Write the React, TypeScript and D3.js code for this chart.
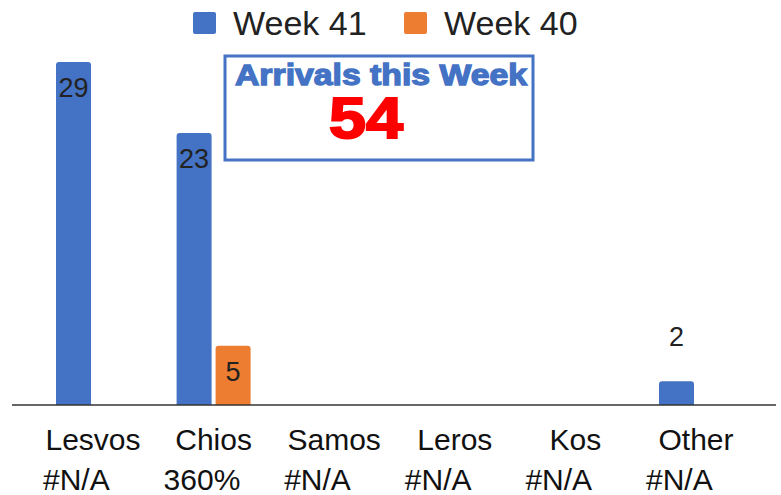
import React from "react";
import * as d3 from "d3";

const categories = ["Lesvos", "Chios", "Samos", "Leros", "Kos", "Other"];
const subLabels = ["#N/A", "360%", "#N/A", "#N/A", "#N/A", "#N/A"];
const seriesNames = ["Week 41", "Week 40"];
const week41 = [29, 23, null, null, null, 2];
const week40 = [null, 5, null, null, null, null];
const seriesColors = ["#4472C4", "#ED7D31"];
const boxTitle = "Arrivals this Week";
const boxValue = "54";

const width = 781;
const height = 495;
const font = "'Liberation Sans', Arial, sans-serif";

// bar with rounded top corners
const topRounded = (x: number, y: number, w: number, h: number, r: number) => {
  const rr = Math.min(r, h, w / 2);
  return `M${x},${y + h}V${y + rr}Q${x},${y} ${x + rr},${y}H${x + w - rr}Q${x + w},${y} ${x + w},${y + rr}V${y + h}Z`;
};

const App = () => {
  const x = d3
    .scaleBand()
    .domain(categories)
    .range([32.7, 756.3])
    .paddingInner(0.3864)
    .paddingOuter(0.1932);
  const xSub = d3
    .scaleBand()
    .domain(seriesNames)
    .range([0, x.bandwidth()])
    .paddingInner(0.1026);
  const y = d3.scaleLinear().domain([0, 29]).range([405, 62]);

  const series = [week41, week40];

  return (
    <svg
      width={width}
      height={height}
      style={{ position: "absolute", left: 0, top: 0, background: "#fff" }}
      fontFamily={font}
    >
      {/* legend */}
      {seriesNames.map((name, i) => {
        const lx = i === 0 ? 193 : 404;
        return (
          <g key={name}>
            <rect x={lx} y={12} width={23} height={22} rx={2} fill={seriesColors[i]} />
            <text x={lx + 40} y={35} fontSize={34} fill="#222">
              {name}
            </text>
          </g>
        );
      })}

      {/* bars */}
      {series.map((vals, si) =>
        vals.map((v, ci) => {
          if (v == null) return null;
          const bx = (x(categories[ci]) ?? 0) + (xSub(seriesNames[si]) ?? 0);
          const bw = xSub.bandwidth();
          const top = y(v);
          const h = y(0) - top;
          const inside = h > 45;
          return (
            <g key={`${si}-${ci}`}>
              <path d={topRounded(bx, top, bw, h, 3)} fill={seriesColors[si]} />
              <text
                x={bx + bw / 2}
                y={inside ? top + 35 : top - 35}
                textAnchor="middle"
                fontSize={27}
                fill="#222"
              >
                {v}
              </text>
            </g>
          );
        })
      )}

      {/* baseline */}
      <line x1={12} x2={776} y1={405} y2={405} stroke="#333" strokeWidth={1.5} />

      {/* category labels */}
      {categories.map((c, i) => {
        const cx = (x(c) ?? 0) + x.bandwidth() / 2;
        return (
          <g key={c}>
            <text x={cx} y={450} textAnchor="middle" fontSize={30} fill="#111">
              {c}
            </text>
            <text x={cx - 50} y={490} textAnchor="start" fontSize={30} fill="#111">
              {subLabels[i]}
            </text>
          </g>
        );
      })}

      {/* callout box */}
      <rect x={225} y={56} width={308} height={104} fill="#fff" stroke="#4472C4" strokeWidth={3} />
      <text
        x={381}
        y={85}
        textAnchor="middle"
        fontSize={29}
        fontWeight={900}
        fill="#4472C4"
        stroke="#4472C4"
        strokeWidth={1.3}
        textLength={292}
        lengthAdjust="spacingAndGlyphs"
      >
        {boxTitle}
      </text>
      <text
        x={366}
        y={138}
        textAnchor="middle"
        fontSize={58}
        fontWeight={900}
        fill="#FF0000"
        stroke="#FF0000"
        strokeWidth={2}
        textLength={74}
        lengthAdjust="spacingAndGlyphs"
      >
        {boxValue}
      </text>
    </svg>
  );
};

export default App;
